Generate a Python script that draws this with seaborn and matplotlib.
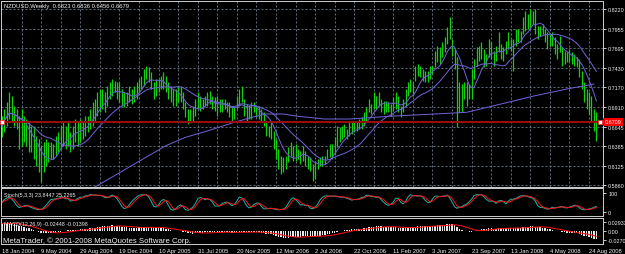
import numpy as np
import pandas as pd
import matplotlib
matplotlib.use("Agg")
import matplotlib.pyplot as plt
import seaborn as sns

# ---------------- data (weekly NZDUSD, pips) ----------------
high_pips = [
    6793,6882,6971,7105,7060,6927,6882,6793,6882,6793,
    6748,6704,6659,6659,6525,6481,6391,6436,6481,6436,
    6436,6414,6525,6570,6659,6704,6659,6704,6570,6659,
    6748,6704,6748,6704,6793,6793,6882,6971,7016,7105,
    7150,7150,7105,7194,7239,7283,7261,7239,7239,7150,
    7105,7105,7194,7150,7194,7239,7283,7328,7417,7462,
    7440,7373,7239,7283,7283,7328,7373,7328,7239,7194,
    7150,7150,7194,7194,7105,6971,6882,6882,6927,7016,
    7105,7060,7016,7060,7105,7127,7060,7038,7060,7016,
    7016,7016,6971,6971,6927,6927,7060,7150,7194,7016,
    6949,6927,6971,6971,6927,6927,6882,6837,6704,6659,
    6704,6592,6481,6347,6258,6235,6258,6369,6436,6391,
    6414,6347,6325,6391,6325,6258,6235,6146,6191,6213,
    6235,6258,6258,6347,6414,6414,6503,6659,6637,6659,
    6681,6614,6704,6726,6704,6726,6748,6770,6837,6904,
    7016,6949,7105,7060,7105,7016,6993,6993,6971,6949,
    7038,7105,7060,6927,7016,7150,7239,7283,7239,7462,
    7484,7462,7417,7395,7395,7462,7462,7663,7730,7707,
    7774,7841,7975,8109,7819,7685,7573,7239,7216,7239,
    7239,7216,7417,7551,7707,7730,7774,7685,7618,7819,
    7774,7663,7730,7908,7752,7707,7797,7908,7819,7819,
    7953,7953,7930,8109,8198,8153,8220,8198,8220,7997,
    7997,8020,7953,7908,7886,7908,7841,7752,7863,7707,
    7663,7640,7685,7640,7618,7573,7551,7395,7239,7150,
    7105,7060,6882,6836,
]
low_pips = [
    6503,6570,6659,6748,6704,6659,6614,6347,6391,6436,
    6391,6302,6302,6213,6124,6035,5901,6035,6124,6168,
    6213,6213,6258,6302,6347,6391,6347,6391,6302,6347,
    6436,6391,6436,6481,6525,6570,6614,6659,6704,6793,
    6837,6882,6837,6927,7016,7060,7105,7016,6971,6927,
    6904,6927,6971,6949,6971,7016,7105,7150,7194,7283,
    7239,7150,7016,7060,7105,7150,7150,7105,7016,6971,
    6927,6927,6971,6971,6882,6770,6681,6704,6726,6793,
    6882,6860,6882,6927,6927,6949,6882,6860,6793,6837,
    6837,6882,6837,6770,6726,6748,6882,6927,6971,6793,
    6726,6748,6748,6837,6770,6748,6704,6659,6525,6503,
    6481,6347,6213,6079,6012,6035,6079,6168,6258,6191,
    6191,6213,6146,6191,6124,6079,6057,5923,5945,6079,
    6124,6124,6146,6213,6235,6213,6280,6369,6436,6481,
    6503,6481,6525,6548,6570,6592,6614,6614,6659,6726,
    6837,6815,6882,6882,6927,6837,6815,6837,6837,6793,
    6860,6882,6837,6771,6838,6927,7060,7105,7060,7261,
    7328,7306,7261,7239,7239,7283,7350,7440,7507,7484,
    7573,7641,7752,7819,7596,7417,6637,6838,6838,7016,
    6927,7016,7016,7283,7462,7529,7551,7440,7462,7573,
    7551,7462,7529,7640,7551,7529,7618,7685,7663,7395,
    7730,7774,7774,7886,7930,7953,7975,8020,7886,7819,
    7863,7886,7774,7685,7730,7730,7618,7551,7640,7462,
    7484,7507,7507,7484,7462,7440,7306,7150,6971,6882,
    6815,6704,6592,6456,
]
close_pips = [
    6650,6800,6900,6950,6800,6750,6700,6500,6650,6550,
    6500,6450,6400,6300,6200,6100,6050,6150,6250,6300,
    6330,6280,6450,6480,6550,6600,6500,6620,6450,6580,
    6650,6600,6700,6650,6750,6760,6850,6900,6950,7050,
    7080,7020,7000,7150,7200,7230,7150,7100,7050,6980,
    6950,7050,7100,7080,7150,7200,7250,7300,7380,7400,
    7300,7200,7100,7200,7250,7300,7250,7150,7050,7000,
    6980,7050,7100,7000,6900,6800,6750,6800,6850,6950,
    7050,6950,6980,7000,7050,7000,6950,6900,6950,6900,
    6950,6950,6900,6850,6800,6900,7000,7100,7000,6850,
    6800,6850,6900,6900,6850,6800,6750,6700,6600,6600,
    6550,6400,6280,6150,6100,6150,6200,6300,6350,6300,
    6250,6280,6200,6300,6200,6150,6100,6000,6100,6150,
    6180,6200,6220,6300,6350,6380,6450,6550,6550,6600,
    6550,6550,6650,6600,6650,6680,6650,6750,6800,6870,
    6950,6900,7050,6980,7050,6950,6900,6950,6900,6900,
    7000,7050,6950,6850,6950,7100,7200,7250,7150,7400,
    7450,7380,7350,7300,7350,7420,7420,7600,7650,7600,
    7750,7800,7900,7850,7650,7500,7000,7100,7000,7150,
    7100,7150,7350,7500,7650,7650,7700,7550,7550,7750,
    7650,7550,7650,7850,7650,7600,7750,7850,7750,7700,
    7900,7850,7850,8050,8100,8050,8150,8100,7950,7900,
    7950,7900,7800,7750,7800,7750,7650,7700,7650,7550,
    7550,7550,7600,7550,7550,7500,7350,7200,7050,7000,
    6950,6850,6823,6679,
]
# slow moving average (bar index, price)
slow_ma_bar = [36, 53, 67, 75, 83, 95, 102, 108, 115, 121, 132, 142, 152,
               163, 177, 190, 204, 218, 231, 242]
slow_ma_val = [0.5800, 0.6124, 0.6391, 0.6503, 0.6579, 0.6704, 0.6770, 0.6815,
               0.6815, 0.6784, 0.6748, 0.6748, 0.6770, 0.6793, 0.6815, 0.6838,
               0.6949, 0.7060, 0.7150, 0.7216]
# EMA state carried in from the weeks before the first visible bar
ema12_start = 0.6560
ema26_start = 0.6300

price_ticks = [0.8220, 0.7955, 0.7695, 0.7430, 0.7170, 0.6910, 0.6645,
               0.6385, 0.6125, 0.5860]
price_tick_labels = ["0.8220", "0.7955", "0.7695", "0.7430", "0.7170",
                     "0.6910", "0.6645", "0.6385", "0.6125", "0.5860"]
hline_price = 0.6709
stoch_ticks = [100, 0]
macd_ticks = [0.02933, 0.0, -0.02704]
macd_tick_labels = ["0.02933", "0.00", "-0.02704"]
first_date = "2004-01-18"
title_text = "NZDUSD,Weekly  0.6823 0.6836 0.6456 0.6679"
stoch_text = "Stoch(5,3,3) 23.8447 25.2265"
macd_text = "MACD(12,26,9) -0.02448 -0.01398"
copyright_text = "MetaTrader, \u00a9 2001-2008 MetaQuotes Software Corp."

# ---------------- derived series ----------------
high = pd.Series(high_pips) / 10000.0
low = pd.Series(low_pips) / 10000.0
close = pd.Series(close_pips) / 10000.0
n = len(close)
xs = np.arange(n)
dates = pd.date_range(first_date, periods=n, freq="7D")

ma_fast = close.rolling(8, min_periods=1).mean()
ma_mid = close.rolling(21, min_periods=1).mean()

hh = high.rolling(5, min_periods=1).max()
ll = low.rolling(5, min_periods=1).min()
k = 100 * (close - ll).rolling(3, min_periods=1).sum() / (hh - ll).rolling(3, min_periods=1).sum()
d = k.rolling(3, min_periods=1).mean()


def ema(values, span, start):
    a = 2.0 / (span + 1)
    out, prev = [], start
    for v in values:
        prev = prev + a * (v - prev)
        out.append(prev)
    return np.array(out)


macd = pd.Series(ema(close.values, 12, ema12_start) - ema(close.values, 26, ema26_start))
signal = macd.rolling(9, min_periods=1).mean()

# ---------------- figure ----------------
sns.set_style("dark")
plt.rcParams["font.family"] = ["Liberation Sans Narrow", "Liberation Sans", "DejaVu Sans"]
W, H = 625, 255
fig = plt.figure(figsize=(W / 100, H / 100), dpi=100, facecolor="black")


def rect(x0, y0, x1, y1):
    return [x0 / W, 1 - y1 / H, (x1 - x0) / W, (y1 - y0) / H]


PX = 72 / 100  # points per pixel
BAR_PX = 2.446
XL = ((1 - 2) / BAR_PX, (603 - 2) / BAR_PX)
SPINE = "#c8c8c8"
GRID = "#778899"
TXT = "#f0f0f0"
RFS = 3.9  # right-axis label size

ax = fig.add_axes(rect(1, 2, 603, 188))
axs = fig.add_axes(rect(1, 189, 603, 217))
axm = fig.add_axes(rect(1, 219, 603, 245))

for a in (ax, axs, axm):
    a.set_facecolor("black")
    a.set_xlim(*XL)
    for s in a.spines.values():
        s.set_color(SPINE)
        s.set_linewidth(1 * PX)
    a.yaxis.tick_right()
    a.tick_params(axis="y", colors=SPINE, labelcolor=TXT, length=2.5, width=PX,
                  pad=1.2, labelsize=RFS)
    a.grid(False)

# main panel
ax.set_ylim(0.8220 - 178 * 0.001338, 0.8220 + 8 * 0.001338)
ax.set_yticks(price_ticks)
ax.set_yticklabels(price_tick_labels)
ax.set_xticks([])
for p in price_ticks:
    ax.axhline(p, color=GRID, lw=0.8 * PX, ls=(0, (2.5, 2.5)), zorder=1)
for gx in range(8, n + 3, 8):
    ax.axvline(gx, color=GRID, lw=0.8 * PX, ls=(0, (2.5, 2.5)), zorder=1)

ax.vlines(xs, low, high, color="#10d010", lw=1.25 * PX, zorder=2)

sns.lineplot(x=xs, y=ma_fast.values, ax=ax, color="#6e62d6", lw=1 * PX, zorder=3, legend=False)
sns.lineplot(x=xs, y=ma_mid.values, ax=ax, color="#6e62d6", lw=1 * PX, zorder=3, legend=False)
sns.lineplot(x=slow_ma_bar, y=slow_ma_val, ax=ax, color="#6e62d6", lw=1 * PX, zorder=3, legend=False)

ax.axhline(hline_price, color="#9a0c0c", lw=2 * PX, zorder=4)
ax.plot([0.2, (600 - 2) / BAR_PX], [hline_price, hline_price], ls="none", marker="s",
        ms=2.5, mfc="white", mec="#ff2020", mew=0.5, zorder=5, clip_on=False)
ax.text(1.003, hline_price, "0.6709", transform=ax.get_yaxis_transform(),
        ha="left", va="center", fontsize=RFS, color="white", zorder=6,
        bbox=dict(boxstyle="square,pad=0.25", fc="#ff0000", ec="#ff0000", lw=0),
        clip_on=False)
ax.set_xlabel("")
ax.set_ylabel("")

# stochastic
axs.set_ylim(-21.05, 126.3)
axs.set_yticks(stoch_ticks)
axs.set_yticklabels([str(t) for t in stoch_ticks])
axs.set_xticks([])
sns.lineplot(x=xs, y=k.values, ax=axs, color="#20b2aa", lw=1 * PX, legend=False)
sns.lineplot(x=xs, y=d.values, ax=axs, color="#ff1010", lw=1 * PX, legend=False)
axs.set_xlabel("")
axs.set_ylabel("")

# MACD
axm.set_ylim(-0.02704 - 4 * 0.0031317, 0.02933 + 4 * 0.0031317)
axm.set_yticks(macd_ticks)
axm.set_yticklabels(macd_tick_labels)
axm.bar(xs, macd.values, width=0.55, color="#e6e6e6", lw=0, zorder=2)
sns.lineplot(x=xs, y=signal.values, ax=axm, color="#ff1010", lw=1 * PX, zorder=3, legend=False)
lab_idx = list(range(0, n, 16))
axm.set_xticks(lab_idx)
axm.set_xticklabels([f"{dates[i].day} {dates[i]:%b %Y}" for i in lab_idx],
                    ha="left", fontsize=4.2, color=TXT)
axm.tick_params(axis="x", colors=SPINE, labelcolor=TXT, length=2, width=PX, pad=0.8)
axm.set_xlabel("")
axm.set_ylabel("")

# texts
fig.text(4 / W, 1 - 6.5 / H, title_text, fontsize=4.2, color=TXT, va="center", ha="left")
fig.text(4 / W, 1 - 195.5 / H, stoch_text, fontsize=3.9, color=TXT, va="center", ha="left")
fig.text(4 / W, 1 - 224.5 / H, macd_text, fontsize=3.9, color=TXT, va="center", ha="left")
fig.text(3 / W, 1 - 241 / H, copyright_text, fontsize=5.6, color=TXT, va="center", ha="left")

fig.savefig("out.png", dpi=100, facecolor="black")
